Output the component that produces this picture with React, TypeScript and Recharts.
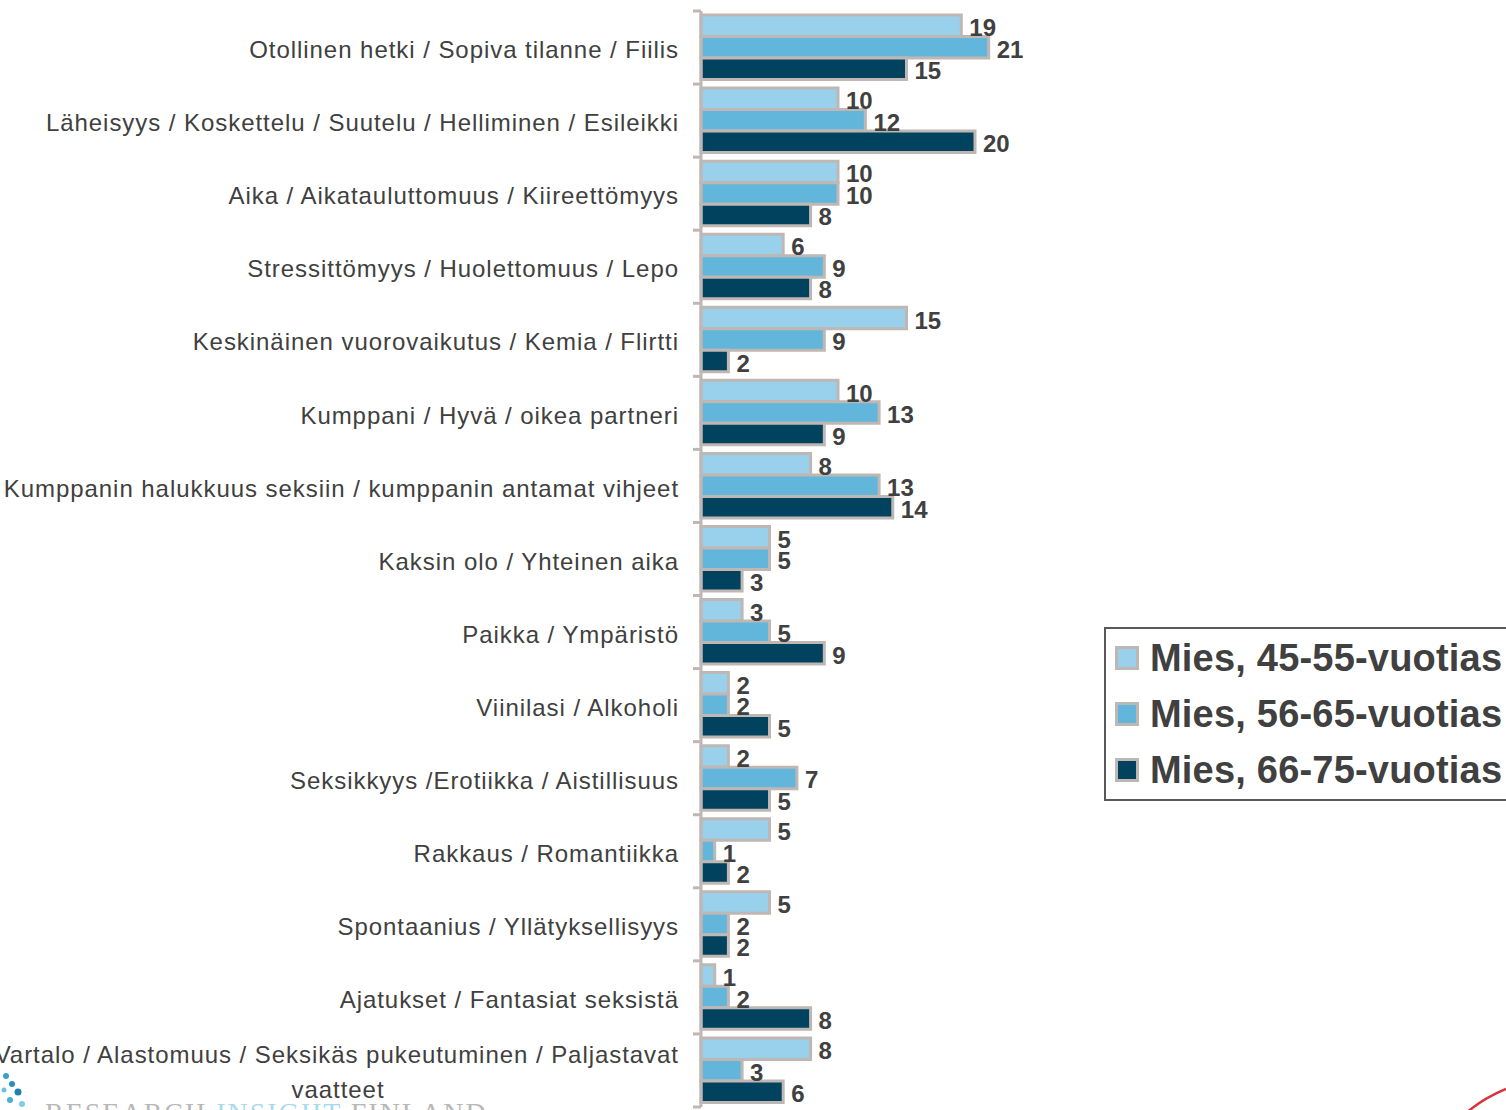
import { BarChart, Bar, XAxis, YAxis, LabelList, Legend } from 'recharts';

const categories = [
  'Otollinen hetki / Sopiva tilanne / Fiilis',
  'Läheisyys / Koskettelu / Suutelu / Helliminen / Esileikki',
  'Aika / Aikatauluttomuus / Kiireettömyys',
  'Stressittömyys / Huolettomuus / Lepo',
  'Keskinäinen vuorovaikutus / Kemia / Flirtti',
  'Kumppani / Hyvä / oikea partneri',
  'Kumppanin halukkuus seksiin / kumppanin antamat vihjeet',
  'Kaksin olo / Yhteinen aika',
  'Paikka / Ympäristö',
  'Viinilasi / Alkoholi',
  'Seksikkyys /Erotiikka / Aistillisuus',
  'Rakkaus / Romantiikka',
  'Spontaanius / Yllätyksellisyys',
  'Ajatukset / Fantasiat seksistä',
  'Vartalo / Alastomuus / Seksikäs pukeutuminen / Paljastavat vaatteet',
];

const mies4555 = [19, 10, 10, 6, 15, 10, 8, 5, 3, 2, 2, 5, 5, 1, 8];
const mies5665 = [21, 12, 10, 9, 9, 13, 13, 5, 5, 2, 7, 1, 2, 2, 3];
const mies6675 = [15, 20, 8, 8, 2, 9, 14, 3, 9, 5, 5, 2, 2, 8, 6];

const seriesNames = ['Mies, 45-55-vuotias', 'Mies, 56-65-vuotias', 'Mies, 66-75-vuotias'];
const seriesKeys = ['a', 'b', 'c'];
const seriesColors = ['#99D1EC', '#62B6DB', '#01435F'];

const data = categories.map((name, i) => ({
  name,
  a: mies4555[i],
  b: mies5665[i],
  c: mies6675[i],
}));

const WIDTH = 1506;
const HEIGHT = 1110;
const MARGIN = { top: 11, right: 394, bottom: 3, left: 0 };
const BAND = (HEIGHT - MARGIN.top - MARGIN.bottom) / categories.length;
const TICK_SIZE = 8;
const TICK_MARGIN = 14;
const BORDER = '#BFB7B4';
const TEXT = '#404040';

function wrapLabel(text: string, maxChars: number) {
  const words = text.split(' ');
  const lines: string[] = [];
  let cur = '';
  words.forEach((w) => {
    const next = cur ? cur + ' ' + w : w;
    if (next.length > maxChars && cur) {
      lines.push(cur);
      cur = w;
    } else {
      cur = next;
    }
  });
  if (cur) lines.push(cur);
  return lines;
}

function CategoryTick(props: any) {
  const { x, y, payload, index } = props;
  const axisX = x + TICK_SIZE + TICK_MARGIN;
  const lines = wrapLabel(payload.value, 58);
  const textStyle = { fontFamily: '"Liberation Sans", Arial, sans-serif', fontSize: 24, letterSpacing: 0.95 };
  return (
    <g>
      <line x1={axisX - TICK_SIZE} x2={axisX} y1={y - BAND / 2} y2={y - BAND / 2} stroke={BORDER} strokeWidth={3} />
      {index === categories.length - 1 && (
        <line x1={axisX - TICK_SIZE} x2={axisX} y1={y + BAND / 2} y2={y + BAND / 2} stroke={BORDER} strokeWidth={3} />
      )}
      {lines.length === 1 ? (
        <text x={x} y={y + 2} dy="0.36em" textAnchor="end" fill={TEXT} style={textStyle}>
          {lines[0]}
        </text>
      ) : (
        <>
          <text x={x} y={y - 16} dy="0.36em" textAnchor="end" fill={TEXT} style={textStyle}>
            {lines[0]}
          </text>
          <text x={x - 341} y={y + 19} dy="0.36em" textAnchor="middle" fill={TEXT} style={textStyle}>
            {lines[1]}
          </text>
        </>
      )}
    </g>
  );
}

function LegendBox() {
  return (
    <div
      style={{
        border: '2px solid #595959',
        background: '#fff',
        padding: '1px 0 1px 9px',
        width: 420,
        boxSizing: 'border-box',
        fontFamily: '"Liberation Sans", Arial, sans-serif',
      }}
    >
      {seriesNames.map((s, i) => (
        <div key={s} style={{ display: 'flex', alignItems: 'center', height: 56 }}>
          <span
            style={{
              width: 18,
              height: 18,
              background: seriesColors[i],
              border: `3px solid ${BORDER}`,
              marginRight: 11,
              flexShrink: 0,
            }}
          />
          <span style={{ fontSize: 38, fontWeight: 'bold', color: TEXT, whiteSpace: 'nowrap', letterSpacing: 0.2 }}>{s}</span>
        </div>
      ))}
    </div>
  );
}

export default function App() {
  return (
    <div
      style={{
        position: 'absolute',
        left: 0,
        top: 0,
        width: WIDTH,
        height: HEIGHT,
        overflow: 'hidden',
        background: '#fff',
      }}
    >
      <BarChart width={WIDTH} height={HEIGHT} data={data} layout="vertical" margin={MARGIN} barSize={21.5} barGap={0}>
        <XAxis type="number" domain={[0, 30]} hide />
        <YAxis
          type="category"
          dataKey="name"
          width={701}
          interval={0}
          axisLine={{ stroke: BORDER, strokeWidth: 3 }}
          tickLine={false}
          tickSize={TICK_SIZE}
          tickMargin={TICK_MARGIN}
          tick={<CategoryTick />}
        />
        <Legend
          layout="vertical"
          align="center"
          verticalAlign="middle"
          content={<LegendBox />}
          wrapperStyle={{ left: 1104, top: 627, width: 420 }}
        />
        {seriesKeys.map((k, i) => (
          <Bar
            key={k}
            dataKey={k}
            name={seriesNames[i]}
            fill={seriesColors[i]}
            stroke={BORDER}
            strokeWidth={3}
            isAnimationActive={false}
          >
            <LabelList
              dataKey={k}
              position="right"
              offset={8}
              dy={2}
              fill={TEXT}
              style={{ fontFamily: '"Liberation Sans", Arial, sans-serif', fontSize: 24, fontWeight: 'bold' }}
            />
          </Bar>
        ))}
      </BarChart>
      <svg width={WIDTH} height={HEIGHT} style={{ position: 'absolute', left: 0, top: 0, pointerEvents: 'none' }}>
        <path d="M1466 1113 Q1484 1098 1506 1089" stroke="#D9323C" strokeWidth={2.5} fill="none" />
        <circle cx={6} cy={1076} r={3} fill="#3AA0C8" />
        <circle cx={12} cy={1084} r={3} fill="#2A8FBF" />
        <circle cx={18} cy={1092} r={3.5} fill="#1E7FB0" />
        <circle cx={4} cy={1090} r={2.5} fill="#6CC0E0" />
        <circle cx={10} cy={1100} r={3} fill="#4AAFD6" />
        <circle cx={22} cy={1104} r={3} fill="#7FCBEA" />
        <text x={45} y={1122} fontFamily="'Liberation Serif', serif" fontSize={28} letterSpacing={2}>
          <tspan fill="#B8B8B8">RESEARCH </tspan>
          <tspan fill="#A9D9EE">INSIGHT </tspan>
          <tspan fill="#B8B8B8">FINLAND</tspan>
        </text>
      </svg>
    </div>
  );
}
